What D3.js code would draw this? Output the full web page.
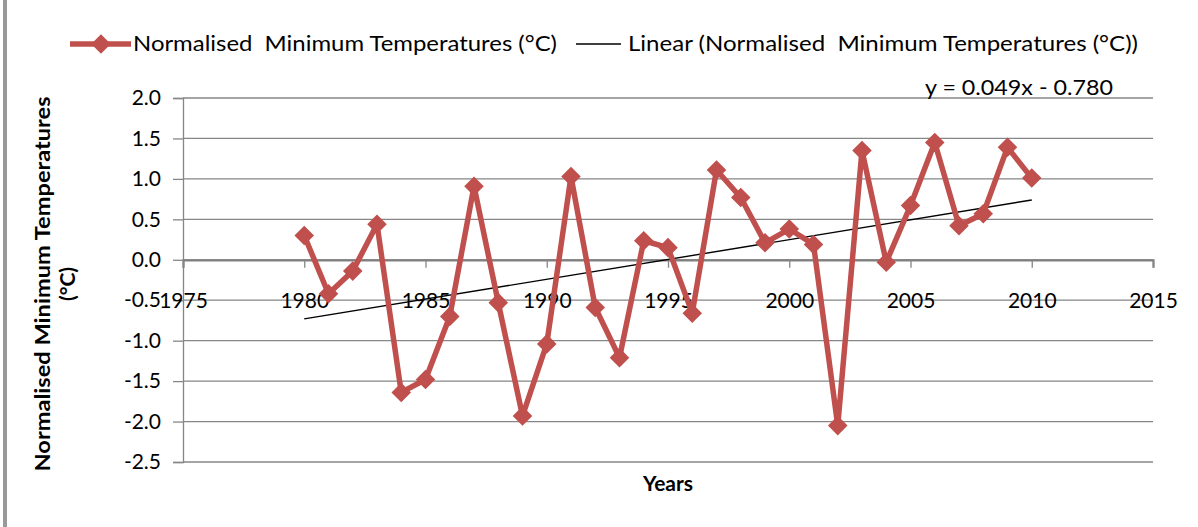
<!DOCTYPE html>
<html>
<head>
<meta charset="utf-8">
<script src="https://cdn.jsdelivr.net/npm/d3@7"></script>
<style>
  html, body { margin: 0; padding: 0; background: #fff; }
  svg { display: block; }
  text { font-family: Lato, "Open Sans", "Liberation Sans", sans-serif; fill: #000; }
</style>
</head>
<body>
<svg id="chart" width="1198" height="527"></svg>
<script>
// ---- data ----
const years = [1980,1981,1982,1983,1984,1985,1986,1987,1988,1989,1990,1991,1992,1993,1994,1995,1996,1997,1998,1999,2000,2001,2002,2003,2004,2005,2006,2007,2008,2009,2010];
const minTemps = [0.30,-0.42,-0.14,0.44,-1.64,-1.48,-0.70,0.91,-0.53,-1.93,-1.04,1.03,-0.59,-1.21,0.235,0.15,-0.66,1.11,0.77,0.21,0.38,0.19,-2.05,1.35,-0.03,0.67,1.45,0.42,0.57,1.39,1.01];
const trendCoef = [0.049, -0.780]; // slope, intercept (x = 1..n)
const yTicks = [-2.5,-2.0,-1.5,-1.0,-0.5,0.0,0.5,1.0,1.5,2.0];
const xTicks = [1975,1980,1985,1990,1995,2000,2005,2010,2015];
const seriesName = "Normalised  Minimum Temperatures (°C)";
const trendName = "Linear (Normalised  Minimum Temperatures (°C))";
const yTitle = ["Normalised Minimum Temperatures", "(°C)"];
const xTitle = "Years";

// ---- layout ----
const svg = d3.select("#chart");
const RED = "#C0504D", GRID = "#868686";
const x = d3.scaleLinear().domain([1975, 2015]).range([183, 1153]);
const y = d3.scaleLinear().domain([-2.5, 2.0]).range([462, 98]);

svg.append("rect").attr("width", 1198).attr("height", 527).attr("fill", "#fff");
// left border of chart area
svg.append("line").attr("x1", 5).attr("x2", 5).attr("y1", 0).attr("y2", 527)
  .attr("stroke", "#999").attr("stroke-width", 4);

// gridlines
svg.append("g").selectAll("line").data(yTicks).join("line")
  .attr("x1", x.range()[0]).attr("x2", x.range()[1])
  .attr("y1", d => y(d)).attr("y2", d => y(d))
  .attr("stroke", GRID).attr("stroke-width", 1.3);

// y axis
const yAxis = svg.append("g").attr("transform", `translate(${x.range()[0]},0)`)
  .call(d3.axisLeft(y).tickValues(yTicks).tickSize(10).tickPadding(12).tickFormat(d => d.toFixed(1)));
yAxis.select(".domain").attr("stroke", GRID).attr("stroke-width", 1.3);
yAxis.selectAll(".tick line").attr("stroke", GRID).attr("stroke-width", 1.3);
yAxis.selectAll(".tick text").attr("font-size", 21).attr("font-family", "Lato, sans-serif").attr("fill", "#000");

// x axis at y = 0
const xAxis = svg.append("g").attr("transform", `translate(0,${y(0)})`)
  .call(d3.axisBottom(x).tickValues(xTicks).tickSize(8).tickPadding(25).tickFormat(d3.format("d")));
xAxis.select(".domain").attr("stroke", "#808080").attr("stroke-width", 2.2);
xAxis.selectAll(".tick line").attr("stroke", GRID).attr("stroke-width", 1.3);
xAxis.selectAll(".tick text").attr("font-size", 21).attr("font-family", "Lato, sans-serif").attr("fill", "#000");

// trend line
const n = years.length;
const trendX = [years[0], years[n - 1]];
const trendY = [trendCoef[0] * 1 + trendCoef[1], trendCoef[0] * n + trendCoef[1]];
svg.append("line")
  .attr("x1", x(trendX[0])).attr("y1", y(trendY[0]))
  .attr("x2", x(trendX[1])).attr("y2", y(trendY[1]))
  .attr("stroke", "#000").attr("stroke-width", 1.4);

// series line
const pts = years.map((yr, i) => [yr, minTemps[i]]);
svg.append("path").datum(pts)
  .attr("fill", "none").attr("stroke", RED).attr("stroke-width", 5.5).attr("stroke-linejoin", "round")
  .attr("d", d3.line().x(d => x(d[0])).y(d => y(d[1])));

const diamond = d3.symbol().type(d3.symbolSquare).size(140);
svg.append("g").selectAll("path").data(pts).join("path")
  .attr("d", diamond)
  .attr("transform", d => `translate(${x(d[0])},${y(d[1])}) rotate(45)`)
  .attr("fill", RED).attr("stroke", RED).attr("stroke-width", 2);

// trend equation label
const eq = `y = ${trendCoef[0].toFixed(3)}x - ${Math.abs(trendCoef[1]).toFixed(3)}`;
svg.append("text").attr("x", 925).attr("y", 95).attr("font-size", 21)
  .attr("textLength", 188).attr("lengthAdjust", "spacingAndGlyphs").text(eq);

// legend
const lg = svg.append("g");
lg.append("line").attr("x1", 70).attr("x2", 131).attr("y1", 44).attr("y2", 44)
  .attr("stroke", RED).attr("stroke-width", 5.5);
lg.append("path").attr("d", diamond).attr("transform", "translate(101,44) rotate(45)")
  .attr("fill", RED).attr("stroke", RED).attr("stroke-width", 2);
lg.append("text").attr("x", 133).attr("y", 51).attr("font-size", 21)
  .attr("textLength", 424).attr("lengthAdjust", "spacingAndGlyphs")
  .style("white-space", "pre").text(seriesName);
lg.append("line").attr("x1", 576).attr("x2", 621).attr("y1", 44).attr("y2", 44)
  .attr("stroke", "#000").attr("stroke-width", 1.4);
lg.append("text").attr("x", 628).attr("y", 51).attr("font-size", 21)
  .attr("textLength", 510).attr("lengthAdjust", "spacingAndGlyphs")
  .style("white-space", "pre").text(trendName);

// axis titles
const yt = svg.append("g").attr("transform", "translate(0,284) rotate(-90)");
yt.append("text").attr("x", 0).attr("y", 50).attr("text-anchor", "middle")
  .attr("font-size", 21).attr("font-weight", "bold")
  .attr("textLength", 375).attr("lengthAdjust", "spacingAndGlyphs").text(yTitle[0]);
yt.append("text").attr("x", 0).attr("y", 75).attr("text-anchor", "middle")
  .attr("font-size", 21).attr("font-weight", "bold").text(yTitle[1]);

svg.append("text").attr("x", 668).attr("y", 491).attr("text-anchor", "middle")
  .attr("font-size", 21).attr("font-weight", "bold").text(xTitle);
</script>
</body>
</html>
